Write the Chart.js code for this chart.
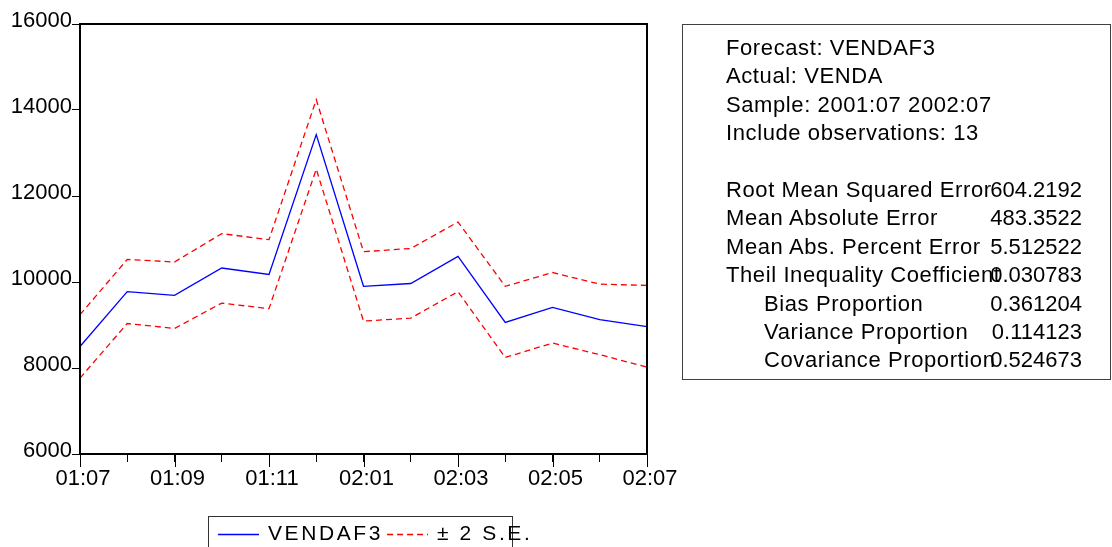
<!DOCTYPE html>
<html>
<head>
<meta charset="utf-8">
<title>VENDAF3 forecast</title>
<script src="https://cdn.jsdelivr.net/npm/chart.js@4/dist/chart.umd.min.js"></script>
<style>
  html,body{margin:0;padding:0;background:#fff}
  #wrap{position:relative;width:1112px;height:547px;overflow:hidden}
  #chart{position:absolute;left:0;top:0}
  #stats{position:absolute;left:682px;top:24px;width:427px;height:345px;border:1px solid #404040;
    font:22px "Liberation Sans",Arial,sans-serif;line-height:28.4px;color:#000;padding-top:9px;box-sizing:content-box}
  #stats .row{position:relative;height:28.4px;white-space:nowrap;padding-left:43px;letter-spacing:0.6px}
  #stats .row.ind{padding-left:81px}
  #stats .val{position:absolute;right:28px;top:0;letter-spacing:0}
</style>
</head>
<body>
<div id="wrap">
  <canvas id="chart" width="1112" height="547"></canvas>
  <div id="stats"></div>
</div>
<script>
// ---- data ----
const months = ['01:07','01:08','01:09','01:10','01:11','01:12','02:01','02:02','02:03','02:04','02:05','02:06','02:07']
const forecast = [8500,9775,9690,10325,10175,13430,9900,9965,10595,9060,9410,9125,8960]
const upperBand = [9240,10525,10465,11125,10985,14240,10705,10780,11395,9900,10220,9950,9920]
const lowerBand = [7765,9035,8920,9510,9380,12625,9090,9160,9775,8245,8580,8310,8020]
const tickEvery = 2

const headerLines = ['Forecast: VENDAF3','Actual: VENDA','Sample: 2001:07 2002:07','Include observations: 13']
const statLabels = ['Root Mean Squared Error','Mean Absolute Error','Mean Abs. Percent Error','Theil Inequality Coefficient','Bias Proportion','Variance Proportion','Covariance Proportion']
const statValues = ['604.2192','483.3522','5.512522','0.030783','0.361204','0.114123','0.524673']
const statIndented = [false,false,false,false,true,true,true]

/* -------------------- stats box -------------------- */
const box = document.getElementById('stats')
headerLines.forEach(t=>{
  const r = document.createElement('div'); r.className='row'; r.textContent=t; box.appendChild(r)
})
box.appendChild(Object.assign(document.createElement('div'),{className:'row'}))
statLabels.forEach((t,i)=>{
  const r = document.createElement('div'); r.className = 'row' + (statIndented[i] ? ' ind' : '')
  r.appendChild(document.createTextNode(t))
  const v = document.createElement('span'); v.className='val'; v.textContent=statValues[i]
  r.appendChild(v); box.appendChild(r)
})

/* -------------------- plugins -------------------- */
const frame = {
  id:'frame',
  afterDatasetsDraw(chart){
    const {ctx, chartArea:a, scales:{x}} = chart
    ctx.save()
    ctx.strokeStyle = '#000'
    ctx.lineWidth = 2
    ctx.strokeRect(a.left, a.top, a.right-a.left, a.bottom-a.top)
    // labelled months get a longer tick
    ctx.lineWidth = 1
    x.ticks.forEach((t,i)=>{
      if(i % tickEvery) return
      const px = Math.round(x.getPixelForTick(i)) + 0.5
      ctx.beginPath(); ctx.moveTo(px, a.bottom); ctx.lineTo(px, a.bottom+13); ctx.stroke()
    })
    ctx.restore()
  }
}

const legendBox = {
  id:'legendBox',
  afterDraw(chart){
    const ctx = chart.ctx
    const items = chart.data.datasets.filter(d=>!d.hideInLegend)
    ctx.save()
    ctx.strokeStyle = '#333'; ctx.lineWidth = 1
    ctx.strokeRect(208.5, 516.5, 304, 40)
    ctx.font = '21px "Liberation Sans", Arial, sans-serif'
    if('letterSpacing' in ctx) ctx.letterSpacing = '2.6px'
    ctx.textBaseline = 'middle'
    ctx.fillStyle = '#000'
    let px = 218
    const y = 534
    items.forEach((d,i)=>{
      ctx.strokeStyle = d.borderColor; ctx.lineWidth = 1.3
      ctx.setLineDash(d.borderDash || [])
      ctx.beginPath(); ctx.moveTo(px, y+0.5); ctx.lineTo(px+41, y+0.5); ctx.stroke()
      ctx.setLineDash([])
      px += 50
      ctx.fillText(d.label, px, y)
      px += ctx.measureText(d.label).width + 4
    })
    ctx.restore()
  }
}

/* -------------------- chart -------------------- */
Chart.defaults.font.family = '"Liberation Sans", Arial, sans-serif'
Chart.defaults.font.size = 22
Chart.defaults.color = '#000'

const dash = [6,4]
new Chart(document.getElementById('chart').getContext('2d'), {
  type:'line',
  data:{
    labels: months,
    datasets:[
      {label:'VENDAF3', data:forecast, borderColor:'#0000ff', borderWidth:1.3, pointRadius:0, tension:0},
      {label:'\u00b1 2 S.E.', data:upperBand, borderColor:'#ff0000', borderDash:dash, borderWidth:1.3, pointRadius:0, tension:0},
      {label:'\u00b1 2 S.E.', data:lowerBand, borderColor:'#ff0000', borderDash:dash, borderWidth:1.3, pointRadius:0, tension:0, hideInLegend:true}
    ]
  },
  options:{
    responsive:false,
    animation:false,
    layout:{padding:{left:0, top:24, right:465, bottom:0}},
    plugins:{legend:{display:false}, tooltip:{enabled:false}},
    scales:{
      x:{
        offset:false,
        border:{display:false},
        grid:{drawOnChartArea:false, drawTicks:true, tickLength:8, color:'#000', lineWidth:1},
        ticks:{autoSkip:false, maxRotation:0, padding:4, labelOffset:3,
          callback:(v,i)=> i % tickEvery ? '' : months[i]},
        afterFit:(s)=>{ s.height = 93 }
      },
      y:{
        min:6000, max:16000,
        border:{display:false},
        grid:{drawOnChartArea:false, drawTicks:true, tickLength:8, color:'#000', lineWidth:1},
        ticks:{stepSize:2000, padding:0, labelOffset:-3, callback:(v)=> String(v)},
        afterFit:(s)=>{ s.width = 80 }
      }
    }
  },
  plugins:[frame, legendBox]
})
</script>
</body>
</html>
